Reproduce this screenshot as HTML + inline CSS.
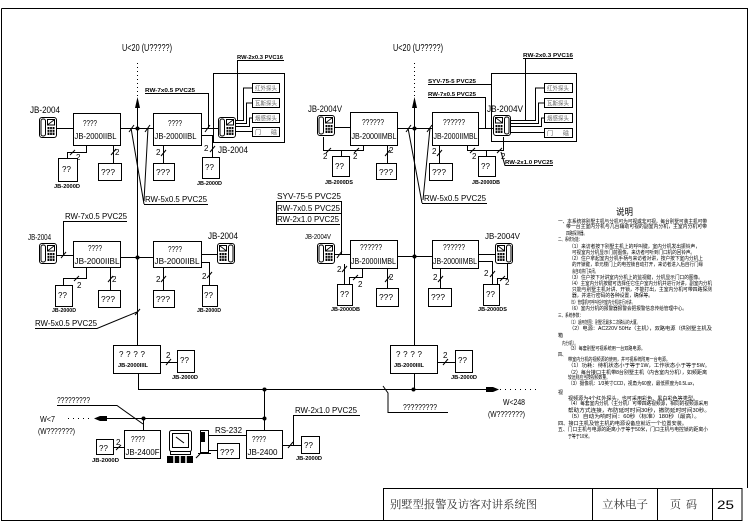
<!DOCTYPE html>
<html><head><meta charset="utf-8">
<style>
html,body{margin:0;padding:0;background:#fff;width:749px;height:530px;overflow:hidden;}
svg{display:block;}
text{font-family:"Liberation Sans","Noto Sans CJK SC",sans-serif;fill:#000;}
.l{stroke:#000;stroke-width:1;fill:none;}
.b{stroke:#000;stroke-width:1;fill:#fff;}
.d{fill:#000;}
.cn{font-family:"Liberation Sans","Noto Sans CJK SC",sans-serif;fill:#777;font-size:5px;}
.det{font-family:"Liberation Sans","Noto Sans CJK SC",sans-serif;fill:#666;font-size:6px;}
.tb{font-family:"Liberation Serif","Noto Serif CJK SC","Noto Sans CJK SC",serif;fill:#333;}
</style></head>
<body>
<svg width="749" height="530" viewBox="0 0 749 530" xmlns="http://www.w3.org/2000/svg">
<defs>
<g id="ph">
 <rect x="0.5" y="0.5" width="17" height="20" rx="2.5" fill="#fff" stroke="#000"/>
 <rect x="2" y="2" width="4.5" height="17" rx="2" fill="none" stroke="#000"/>
 <rect x="8.5" y="2.5" width="7" height="5.5" fill="none" stroke="#000"/>
 <path d="M9 7.5 L15 3" stroke="#000" stroke-width="0.8"/>
 <rect x="8.5" y="10" width="7" height="8" fill="#000"/>
 <path d="M8.5 12.5H15.5M8.5 15.2H15.5M10.8 10V18M13.2 10V18" stroke="#fff" stroke-width="0.7"/>
</g>
</defs>

<!-- frame -->
<path class="l" stroke-width="1.5" d="M1.5 8.5 H747.5 V488"/>
<path class="l" stroke-width="1.5" d="M1.5 8.5 V520.5 H383"/>
<!-- title block -->
<rect x="383.5" y="488.5" width="358.5" height="32" class="l" stroke-width="1.5"/>
<path class="l" d="M592.5 488.5V520.5M657.5 488.5V520.5M712.5 488.5V520.5"/>
<text class="tb" x="390" y="508" font-size="11" textLength="147" lengthAdjust="spacingAndGlyphs">别墅型报警及访客对讲系统图</text>
<text class="tb" x="602" y="508" font-size="11" textLength="46" lengthAdjust="spacingAndGlyphs">立林电子</text>
<text class="tb" x="670" y="508" font-size="11" textLength="27" lengthAdjust="spacing">页码</text>
<text x="717" y="509" font-size="12" textLength="17" lengthAdjust="spacingAndGlyphs" fill="#222">25</text>

<!-- ===== risers ===== -->
<line x1="137.5" y1="63" x2="137.5" y2="97" class="l" stroke-dasharray="1 3"/>
<path d="M137.5 97 L135 108 H140 Z" class="d"/>
<line x1="137.5" y1="108" x2="137.5" y2="345" class="l"/>
<line x1="414.5" y1="63" x2="414.5" y2="97" class="l" stroke-dasharray="1 3"/>
<path d="M414.5 97 L412 108 H417 Z" class="d"/>
<line x1="414.5" y1="108" x2="414.5" y2="345" class="l"/>
<text x="122" y="51" font-size="10" textLength="50" lengthAdjust="spacingAndGlyphs">U&lt;20 (U?????)</text>
<text x="393" y="51" font-size="10" textLength="50" lengthAdjust="spacingAndGlyphs">U&lt;20 (U?????)</text>

<!-- ===== TOP LEFT FLOOR 1 ===== -->
<rect x="73.5" y="113.5" width="47" height="32" class="b"/>
<text x="83" y="126" font-size="8" textLength="14" lengthAdjust="spacingAndGlyphs">????</text>
<text x="74.5" y="139" font-size="8.5" textLength="42" lengthAdjust="spacingAndGlyphs">JB-2000IIBL</text>
<use href="#ph" x="39" y="117"/>
<text x="30" y="113" font-size="9" textLength="30" lengthAdjust="spacingAndGlyphs">JB-2004</text>
<path class="l" d="M57 128.5 H73"/>
<path class="l" d="M120.5 128.5 H153"/>
<circle cx="137.5" cy="128.5" r="2" class="d"/>
<path class="l" d="M129 132 L134 125 M145 132 L150 125"/>
<path class="l" d="M131 128 L144 204 M148 128 L144 201 M144 204.5 H208"/>
<text x="145" y="202" font-size="8" textLength="62" lengthAdjust="spacingAndGlyphs">RW-5x0.5 PVC25</text>

<path class="l" d="M86.5 145 V152.5 H67.5 V158"/>
<path class="l" d="M70 155 L75 150"/>
<text x="76" y="160" font-size="8">2</text>
<rect x="58.5" y="158.5" width="19" height="23" class="b"/>
<text x="62" y="172" font-size="8">??</text>
<text x="54" y="188" font-size="5" textLength="26" lengthAdjust="spacingAndGlyphs" font-weight="bold">JB-2000D</text>
<rect x="98.5" y="163.5" width="23" height="17" class="b"/>
<text x="101" y="175" font-size="8" textLength="14" lengthAdjust="spacingAndGlyphs">???</text>
<path class="l" d="M113.5 145 V163 M111 155 L116 149"/>
<text x="115" y="155" font-size="8">2</text>

<rect x="153.5" y="113.5" width="48" height="32" class="b"/>
<text x="168" y="126" font-size="8" textLength="14" lengthAdjust="spacingAndGlyphs">????</text>
<text x="154.5" y="139" font-size="8.5" textLength="42" lengthAdjust="spacingAndGlyphs">JB-2000IIBL</text>
<rect x="153.5" y="163.5" width="21" height="17" class="b"/>
<text x="156" y="175" font-size="8" textLength="14" lengthAdjust="spacingAndGlyphs">???</text>
<path class="l" d="M163.5 145 V163 M161 156 L166 150"/>
<text x="156" y="155" font-size="8">2</text>
<path class="l" d="M202 128.5 H218 M205 132 L210 125"/>
<text x="145" y="92" font-size="5.5" font-weight="bold" textLength="50" lengthAdjust="spacingAndGlyphs">RW-7x0.5 PVC25</text>
<path class="l" d="M145 93.5 H208.5 V128"/>
<path class="l" d="M202 135.5 H212.5 V157 M210 152 L215 146"/>
<text x="204" y="151" font-size="8">2</text>
<rect x="202.5" y="157.5" width="17" height="21" class="b"/>
<text x="205" y="170" font-size="8">??</text>
<text x="197" y="185" font-size="5" font-weight="bold" textLength="25" lengthAdjust="spacingAndGlyphs">JB-2000D</text>
<rect x="213.5" y="73.5" width="71" height="69" class="l"/>
<use href="#ph" x="218" y="117"/>
<text x="218" y="153" font-size="9" textLength="30" lengthAdjust="spacingAndGlyphs">JB-2004</text>
<rect x="252.5" y="83.5" width="27" height="9" class="b"/>
<rect x="252.5" y="98.5" width="27" height="9" class="b"/>
<rect x="252.5" y="113.5" width="27" height="9" class="b"/>
<rect x="252.5" y="127.5" width="27" height="9" class="b"/>
<text class="det" x="255" y="90.5" textLength="22" lengthAdjust="spacingAndGlyphs">红外探头</text>
<text class="det" x="255" y="105.5" textLength="22" lengthAdjust="spacingAndGlyphs">瓦斯探头</text>
<text class="det" x="255" y="120.5" textLength="22" lengthAdjust="spacingAndGlyphs">烟感探头</text>
<text class="det" x="255" y="134.5" textLength="22" lengthAdjust="spacing">门　　磁</text>
<path class="l" d="M236 120.5 H243.5 V88 H252 M236 123.5 H246.5 V103 H252 M236 126.5 H249.5 V118 H252 M236 131.5 H252"/>
<text x="237" y="59" font-size="5" font-weight="bold" textLength="46" lengthAdjust="spacingAndGlyphs">RW-2x0.3 PVC16</text>
<path class="l" d="M237 60.5 H284 M237.5 60 V120"/>

<!-- ===== TOP RIGHT FLOOR 1 ===== -->
<rect x="350.5" y="112.5" width="47" height="33" class="b"/>
<text x="362" y="125" font-size="8" textLength="22" lengthAdjust="spacingAndGlyphs">??????</text>
<text x="351.5" y="139" font-size="8.5" textLength="45" lengthAdjust="spacingAndGlyphs">JB-2000IIMBL</text>
<use href="#ph" x="317" y="115"/>
<text x="308" y="112" font-size="9" textLength="34" lengthAdjust="spacingAndGlyphs">JB-2004V</text>
<path class="l" d="M334 127.5 H350"/>
<path class="l" d="M323.5 137 V150.5 H363.5 V145 M341.5 150 V156 M326 153 L331 148 M354 153 L359 148"/>
<text x="323" y="159" font-size="8">2</text>
<text x="353" y="159" font-size="8">2</text>
<rect x="332.5" y="156.5" width="17" height="20" class="b"/>
<text x="335" y="169" font-size="8">??</text>
<text x="325" y="184" font-size="5" font-weight="bold" textLength="28" lengthAdjust="spacingAndGlyphs">JB-2000DS</text>
<rect x="376.5" y="163.5" width="20" height="16" class="b"/>
<text x="379" y="175" font-size="8" textLength="14" lengthAdjust="spacingAndGlyphs">???</text>
<path class="l" d="M387.5 145 V163 M385 156 L390 150"/>
<text x="389" y="153" font-size="8">2</text>
<path class="l" d="M397 128.5 H432"/>
<circle cx="414.5" cy="128.5" r="2" class="d"/>
<path class="l" d="M406 132 L411 125 M427 132 L432 125"/>
<path class="l" d="M408 128 L422 203 M430 128 L423 200 M422 203.5 H487"/>
<text x="424" y="201" font-size="8" textLength="62" lengthAdjust="spacingAndGlyphs">RW-5x0.5 PVC25</text>
<rect x="432.5" y="112.5" width="46" height="33" class="b"/>
<text x="443" y="125" font-size="8" textLength="22" lengthAdjust="spacingAndGlyphs">??????</text>
<text x="433.5" y="139" font-size="8.5" textLength="44" lengthAdjust="spacingAndGlyphs">JB-2000IIMBL</text>
<rect x="429.5" y="163.5" width="23" height="17" class="b"/>
<text x="432" y="175" font-size="8" textLength="14" lengthAdjust="spacingAndGlyphs">???</text>
<path class="l" d="M439.5 145 V163 M437 156 L442 150"/>
<text x="432" y="154" font-size="8">2</text>
<path class="l" d="M479 128.5 H493"/>
<text x="428" y="83" font-size="5" font-weight="bold" textLength="48" lengthAdjust="spacingAndGlyphs">SYV-75-5 PVC25</text>
<path class="l" d="M428 84.5 H491"/>
<text x="428" y="96" font-size="5" font-weight="bold" textLength="48" lengthAdjust="spacingAndGlyphs">RW-7x0.5 PVC25</text>
<path class="l" d="M428 97.5 H485.5 V128"/>
<path class="l" d="M467.5 145 V150.5 H503.5 V137 M486.5 150 V156 M470 153 L475 148 M497 153 L502 148"/>
<text x="472" y="159" font-size="8">2</text>
<text x="501" y="159" font-size="8">2</text>
<rect x="478.5" y="156.5" width="17" height="20" class="b"/>
<text x="481" y="169" font-size="8">??</text>
<text x="472" y="184" font-size="5" font-weight="bold" textLength="28" lengthAdjust="spacingAndGlyphs">JB-2000DB</text>
<path class="l" d="M501 152 L505 165.5 H553"/>
<text x="505" y="164" font-size="5" font-weight="bold" textLength="48" lengthAdjust="spacingAndGlyphs">RW-2x1.0 PVC25</text>
<rect x="491.5" y="73.5" width="85" height="68" class="l"/>
<use href="#ph" transform="translate(511,115) scale(-1,1)"/>
<text x="487" y="112" font-size="9" textLength="36" lengthAdjust="spacingAndGlyphs">JB-2004V</text>
<rect x="544.5" y="83.5" width="28" height="9" class="b"/>
<rect x="544.5" y="98.5" width="28" height="9" class="b"/>
<rect x="544.5" y="113.5" width="28" height="9" class="b"/>
<rect x="544.5" y="128.5" width="28" height="9" class="b"/>
<text class="det" x="547" y="90.5" textLength="22" lengthAdjust="spacingAndGlyphs">红外探头</text>
<text class="det" x="547" y="105.5" textLength="22" lengthAdjust="spacingAndGlyphs">瓦斯探头</text>
<text class="det" x="547" y="120.5" textLength="22" lengthAdjust="spacingAndGlyphs">烟感探头</text>
<text class="det" x="547" y="135.5" textLength="22" lengthAdjust="spacing">门　　磁</text>
<path class="l" d="M511 120.5 H535.5 V88 H544 M511 123.5 H538.5 V103 H544 M511 126.5 H541.5 V118 H544 M511 132.5 H544"/>
<text x="523" y="57" font-size="5" font-weight="bold" textLength="50" lengthAdjust="spacingAndGlyphs">RW-2x0.3 PVC16</text>
<path class="l" d="M523 58.5 H573 M525.5 58 V120"/>

<!-- ===== FLOOR 2 LEFT ===== -->
<text x="65" y="219" font-size="8" textLength="62" lengthAdjust="spacingAndGlyphs">RW-7x0.5 PVC25</text>
<path class="l" d="M63.5 221.5 H127 M63.5 221 V255 M61 258 L66 252"/>
<use href="#ph" x="39" y="243"/>
<text x="28" y="240" font-size="8" textLength="23" lengthAdjust="spacingAndGlyphs">JB-2004</text>
<rect x="73.5" y="241.5" width="47" height="26" class="b"/>
<text x="88" y="251" font-size="8" textLength="14" lengthAdjust="spacingAndGlyphs">????</text>
<text x="74.5" y="264" font-size="8.5" textLength="45" lengthAdjust="spacingAndGlyphs">JB-2000IIBL</text>
<path class="l" d="M57 255.5 H73"/>
<path class="l" d="M120 257.5 H153"/>
<circle cx="137.5" cy="257.5" r="2" class="d"/>
<rect x="153.5" y="241.5" width="48" height="26" class="b"/>
<text x="168" y="252" font-size="8" textLength="14" lengthAdjust="spacingAndGlyphs">????</text>
<text x="154.5" y="264" font-size="8.5" textLength="45" lengthAdjust="spacingAndGlyphs">JB-2000IIBL</text>
<path class="l" d="M201 254.5 H217"/>
<use href="#ph" transform="translate(235,243) scale(-1,1)"/>
<text x="208" y="239" font-size="9" textLength="30" lengthAdjust="spacingAndGlyphs">JB-2004</text>
<path class="l" d="M86.5 268 V278.5 H63.5 V285 M74 281 L79 276"/>
<text x="77" y="288" font-size="8">2</text>
<rect x="55.5" y="285.5" width="17" height="21" class="b"/>
<text x="58" y="298" font-size="8">??</text>
<text x="52" y="312" font-size="5" font-weight="bold" textLength="24" lengthAdjust="spacingAndGlyphs">JB-2000D</text>
<rect x="98.5" y="290.5" width="22" height="17" class="b"/>
<text x="101" y="302" font-size="8" textLength="14" lengthAdjust="spacingAndGlyphs">???</text>
<path class="l" d="M110.5 268 V290 M108 282 L113 276"/>
<text x="112" y="282" font-size="8">2</text>
<rect x="153.5" y="290.5" width="21" height="17" class="b"/>
<text x="156" y="302" font-size="8" textLength="14" lengthAdjust="spacingAndGlyphs">???</text>
<path class="l" d="M163.5 268 V290 M161 282 L166 276"/>
<text x="156" y="282" font-size="8">2</text>
<path class="l" d="M201 262.5 H209.5 V285 M207 278 L212 272"/>
<text x="202" y="279" font-size="8">2</text>
<rect x="202.5" y="285.5" width="15" height="21" class="b"/>
<text x="204" y="298" font-size="8">??</text>
<text x="197" y="312" font-size="5" font-weight="bold" textLength="24" lengthAdjust="spacingAndGlyphs">JB-2000D</text>
<text x="35" y="326" font-size="8" textLength="62" lengthAdjust="spacingAndGlyphs">RW-5x0.5 PVC25</text>
<path class="l" d="M35 328.5 H97 L137 312 M135 315 L140 309"/>

<!-- ===== FLOOR 2 RIGHT ===== -->
<text x="277" y="199" font-size="8" textLength="64" lengthAdjust="spacingAndGlyphs">SYV-75-5 PVC25</text>
<text x="277" y="211" font-size="8" textLength="63" lengthAdjust="spacingAndGlyphs">RW-7x0.5 PVC25</text>
<text x="277" y="222" font-size="8" textLength="62" lengthAdjust="spacingAndGlyphs">RW-2x1.0 PVC25</text>
<path class="l" d="M276 201.5 H341.5 M276 213.5 H341.5 M276 224.5 H340 M276.5 201 V224 M341.5 201 V254"/>
<use href="#ph" x="317" y="243"/>
<text x="305" y="239" font-size="7" textLength="26" lengthAdjust="spacingAndGlyphs">JB-2004V</text>
<rect x="350.5" y="240.5" width="47" height="28" class="b"/>
<text x="360" y="250" font-size="8" textLength="22" lengthAdjust="spacingAndGlyphs">??????</text>
<text x="351" y="264" font-size="8.5" textLength="45" lengthAdjust="spacingAndGlyphs">JB-2000IIMBL</text>
<path class="l" d="M334 254.5 H350 M337 258 L342 251"/>
<path class="l" d="M397 256.5 H432"/>
<circle cx="414.5" cy="256.5" r="2" class="d"/>
<rect x="432.5" y="240.5" width="46" height="28" class="b"/>
<text x="443" y="250" font-size="8" textLength="22" lengthAdjust="spacingAndGlyphs">??????</text>
<text x="433" y="264" font-size="8.5" textLength="44" lengthAdjust="spacingAndGlyphs">JB-2000IIMBL</text>
<path class="l" d="M478 254.5 H495"/>
<use href="#ph" transform="translate(513,243) scale(-1,1)"/>
<text x="485" y="239" font-size="8" textLength="35" lengthAdjust="spacingAndGlyphs">JB-2004V</text>
<path class="l" d="M344.5 264 V284 M342 272 L347 266"/>
<text x="337" y="272" font-size="8">2</text>
<path class="l" d="M362.5 268 V277.5 H349.5 V284 M353 280 L358 275"/>
<text x="358" y="287" font-size="8">2</text>
<rect x="337.5" y="284.5" width="15" height="21" class="b"/>
<text x="340" y="297" font-size="8">??</text>
<text x="331" y="311" font-size="5" font-weight="bold" textLength="29" lengthAdjust="spacingAndGlyphs">JB-2000DB</text>
<rect x="376.5" y="288.5" width="22" height="18" class="b"/>
<text x="379" y="300" font-size="8" textLength="14" lengthAdjust="spacingAndGlyphs">???</text>
<path class="l" d="M387.5 268 V288 M385 282 L390 276"/>
<text x="389" y="280" font-size="8">2</text>
<rect x="428.5" y="288.5" width="23" height="18" class="b"/>
<text x="431" y="300" font-size="8" textLength="14" lengthAdjust="spacingAndGlyphs">???</text>
<path class="l" d="M440.5 268 V288 M438 282 L443 276"/>
<text x="433" y="280" font-size="8">2</text>
<path class="l" d="M478 261.5 H492.5 V284 M490 277 L495 271"/>
<text x="484" y="276" font-size="8">2</text>
<path class="l" d="M507.5 264 V278.5 H497.5 V284 M500 281 L505 276"/>
<text x="505" y="285" font-size="8">2</text>
<rect x="483.5" y="284.5" width="16" height="21" class="b"/>
<text x="486" y="297" font-size="8">??</text>
<text x="478" y="311" font-size="5" font-weight="bold" textLength="29" lengthAdjust="spacingAndGlyphs">JB-2000DS</text>

<!-- ===== BOTTOM ===== -->
<rect x="113.5" y="345.5" width="47" height="28" class="b"/>
<text x="119" y="357" font-size="8" textLength="26" lengthAdjust="spacing">????</text>
<text x="118" y="367" font-size="5" font-weight="bold" textLength="30" lengthAdjust="spacingAndGlyphs">JB-2000IIIL</text>
<path class="l" d="M161 362.5 H177 M166 365 L171 359"/>
<text x="166" y="358" font-size="8">2</text>
<rect x="177.5" y="350.5" width="17" height="22" class="b"/>
<text x="180" y="363" font-size="8">??</text>
<text x="172" y="379" font-size="5" font-weight="bold" textLength="26" lengthAdjust="spacingAndGlyphs">JB-2000D</text>
<path class="l" d="M138.5 373 V389.5 H488"/>
<path d="M486 387 H493 L499 389.5 L493 392 H486 Z" class="d"/>
<path class="l" d="M500 389.5 H537" stroke-dasharray="1 4"/>
<circle cx="264.5" cy="389.5" r="2" class="d"/>
<circle cx="413.5" cy="389.5" r="2" class="d"/>
<path class="l" d="M264.5 389 V430"/>
<path class="l" d="M105 418.5 H264"/>
<circle cx="264.5" cy="418.5" r="2" class="d"/>
<circle cx="143.5" cy="418.5" r="2" class="d"/>
<path d="M107 416 H100 L94 418.5 L100 421 H107 Z" class="d"/>
<path class="l" d="M68 418.5 H92" stroke-dasharray="1 4"/>
<path class="l" d="M143.5 418 V430"/>
<text x="57" y="403" font-size="8" textLength="33" lengthAdjust="spacingAndGlyphs">?????????</text>
<path class="l" d="M57 405.5 H117 L143 424"/>
<text x="40" y="422" font-size="8" textLength="15" lengthAdjust="spacingAndGlyphs">W&lt;7</text>
<text x="38" y="434" font-size="8" textLength="37" lengthAdjust="spacingAndGlyphs">(W???????)</text>
<rect x="124.5" y="430.5" width="36" height="28" class="b"/>
<text x="131" y="442" font-size="8" textLength="14" lengthAdjust="spacingAndGlyphs">????</text>
<text x="125.5" y="455" font-size="8" textLength="34" lengthAdjust="spacingAndGlyphs">JB-2400F</text>
<rect x="96.5" y="439.5" width="17" height="15" class="b"/>
<text x="99" y="451" font-size="8">??</text>
<path class="l" d="M114 447.5 H124 M116 450 L121 445"/>
<text x="116" y="445" font-size="8">2</text>
<text x="92" y="462" font-size="5" font-weight="bold" textLength="27" lengthAdjust="spacingAndGlyphs">JB-2000D</text>
<!-- computer -->
<rect x="169.5" y="430.5" width="22" height="21" rx="2" class="b"/>
<rect x="172.5" y="433.5" width="16" height="14" class="l"/>
<path class="l" d="M176 437 L184 443"/>
<rect x="170.5" y="451.5" width="20" height="3" class="b"/>
<rect x="167" y="456" width="26" height="7" class="d"/>
<path d="M174 456V463M180 456V463M186 456V463" stroke="#fff" stroke-width="1.5"/>
<rect x="200.5" y="430.5" width="8" height="22" class="b"/>
<rect x="201" y="432" width="4" height="10" class="d"/>
<path class="l" d="M198 453.5 H211 M196 458 L200 454"/>
<path class="l" d="M209 435.5 H246"/>
<text x="215" y="433" font-size="8" textLength="27" lengthAdjust="spacingAndGlyphs">RS-232</text>
<path class="l" d="M209 450.5 H217"/>
<rect x="217.5" y="443.5" width="22" height="15" class="b"/>
<text x="220" y="455" font-size="8" textLength="14" lengthAdjust="spacingAndGlyphs">???</text>
<rect x="246.5" y="430.5" width="36" height="28" class="b"/>
<text x="252" y="442" font-size="8" textLength="14" lengthAdjust="spacingAndGlyphs">????</text>
<text x="247.5" y="455" font-size="8" textLength="30" lengthAdjust="spacingAndGlyphs">JB-2400</text>
<path class="l" d="M283 445.5 H301 M288 448 L293 442 M293.5 445 V415.5 H360"/>
<text x="295" y="413" font-size="8" textLength="62" lengthAdjust="spacingAndGlyphs">RW-2x1.0 PVC25</text>
<rect x="301.5" y="436.5" width="18" height="17" class="b"/>
<text x="304" y="448" font-size="8">??</text>
<text x="296" y="460" font-size="5" font-weight="bold" textLength="26" lengthAdjust="spacingAndGlyphs">JB-2000D</text>

<rect x="390.5" y="345.5" width="47" height="28" class="b"/>
<text x="396" y="357" font-size="8" textLength="26" lengthAdjust="spacing">????</text>
<text x="394" y="367" font-size="5" font-weight="bold" textLength="30" lengthAdjust="spacingAndGlyphs">JB-2000IIIL</text>
<path class="l" d="M438 362.5 H455 M443 365 L448 359"/>
<text x="443" y="358" font-size="8">2</text>
<rect x="455.5" y="350.5" width="17" height="22" class="b"/>
<text x="458" y="363" font-size="8">??</text>
<text x="451" y="379" font-size="5" font-weight="bold" textLength="26" lengthAdjust="spacingAndGlyphs">JB-2000D</text>
<path class="l" d="M414.5 373 V389"/>
<path class="l" d="M383 386 L388 393 V412.5 H448"/>
<text x="403" y="410" font-size="8" textLength="34" lengthAdjust="spacingAndGlyphs">?????????</text>
<text x="503" y="405" font-size="8" textLength="22" lengthAdjust="spacingAndGlyphs">W&lt;248</text>
<text x="488" y="417" font-size="8" textLength="37" lengthAdjust="spacingAndGlyphs">(W???????)</text>

<!-- ===== explanation ===== -->
<text x="616" y="215" font-size="9" fill="#333" textLength="17" lengthAdjust="spacingAndGlyphs">说明</text>
<g class="cn">
<text x="558" y="223" textLength="149" lengthAdjust="spacingAndGlyphs">一、本系统将别墅主机与分机可为可视或非可视，每台别墅可装主机可带</text>
<text x="566" y="228" textLength="141" lengthAdjust="spacingAndGlyphs">带一台主室内分机与几台辅助可视的副室内分机，主室内分机可带</text>
<text x="566" y="235" textLength="21" lengthAdjust="spacingAndGlyphs">四路探测器。</text>
<text x="558" y="241" textLength="24" lengthAdjust="spacingAndGlyphs">二、系统功能：</text>
<text x="569" y="248" textLength="131" lengthAdjust="spacingAndGlyphs">（1）来访者按下别墅主机上的呼叫键，室内分机发出振铃声，</text>
<text x="572" y="254" textLength="123" lengthAdjust="spacingAndGlyphs">可视室内分机显示门前图像，来访者可听到门口机的回铃声。</text>
<text x="569" y="260" textLength="134" lengthAdjust="spacingAndGlyphs">（2）住户拿起室内分机手柄与来访者对讲，按户按下室内分机上</text>
<text x="572" y="266" textLength="131" lengthAdjust="spacingAndGlyphs">的开锁键，单元楼门上的电控锁自动打开，来访者进入后自行门缘</text>
<text x="572" y="273" textLength="26" lengthAdjust="spacingAndGlyphs">会自动将门关闭。</text>
<text x="569" y="279" textLength="134" lengthAdjust="spacingAndGlyphs">（3）住户按下对讲室内分机上的监视键，分机显示门口的图像。</text>
<text x="569" y="285" textLength="143" lengthAdjust="spacingAndGlyphs">（4）主室内分机按键可选择任它住户室内分机并进行对讲，副室内分机</text>
<text x="572" y="291" textLength="140" lengthAdjust="spacingAndGlyphs">只能与别墅主机对讲、开锁，不能打出，主室内分机可带四路探测</text>
<text x="572" y="297" textLength="81" lengthAdjust="spacingAndGlyphs">器，并进行密码的各种设置，确保等。</text>
<text x="569" y="304" textLength="66" lengthAdjust="spacingAndGlyphs">（5）管理机可呼叫任何室内分机进行对讲。</text>
<text x="569" y="310" textLength="118" lengthAdjust="spacingAndGlyphs">（6）室内分机的报警器报警会把报警信息传给管理中心。</text>
<text x="558" y="317" textLength="25" lengthAdjust="spacingAndGlyphs">三、系统参数：</text>
<text x="569" y="324" textLength="71" lengthAdjust="spacingAndGlyphs">（1）适用范围：别墅况最多二次确认的大厦。</text>
<text x="569" y="330" textLength="143" lengthAdjust="spacingAndGlyphs">（2）电源：AC220V 50Hz（主机），双路电源（供别墅主机及</text>
<text x="558" y="337" textLength="5" lengthAdjust="spacingAndGlyphs">箱</text>
<text x="562" y="345" textLength="16" lengthAdjust="spacingAndGlyphs">内分机）。</text>
<text x="568" y="350" textLength="77" lengthAdjust="spacingAndGlyphs">（3）每套别墅可视系统用一台双路电源。</text>
<text x="558" y="356" textLength="8" lengthAdjust="spacingAndGlyphs">四、</text>
<text x="568" y="361" textLength="102" lengthAdjust="spacingAndGlyphs">带室内分机的视频源的使用，并可视系统附用一台电源。</text>
<text x="568" y="367" textLength="142" lengthAdjust="spacingAndGlyphs">（1）功耗：待机状态小于等于1W，工作状态小于等于5W。</text>
<text x="568" y="374" textLength="139" lengthAdjust="spacingAndGlyphs">（2）每台接口主机带8台别墅主机（内含室内分机），如频距离</text>
<text x="568" y="379" textLength="42" lengthAdjust="spacingAndGlyphs">较远则应当按视频数量。</text>
<text x="568" y="385" textLength="129" lengthAdjust="spacingAndGlyphs">（3）摄像机：1/3英寸CCD，视角为60度，最低照度为0.5Lux，</text>
<text x="558" y="394" textLength="5" lengthAdjust="spacingAndGlyphs">视</text>
<text x="568" y="400" textLength="130" lengthAdjust="spacingAndGlyphs">视频源为4个红外探头，也可采用彩色、黑白彩色等类型。</text>
<text x="568" y="405" textLength="140" lengthAdjust="spacingAndGlyphs">（4）每套室内分机（主分机）可带四路视频源，相同的视频源采用</text>
<text x="568" y="412" textLength="142" lengthAdjust="spacingAndGlyphs">帮助方式连接，布防延时时间30秒，撤防延时时间30秒。</text>
<text x="568" y="418" textLength="132" lengthAdjust="spacingAndGlyphs">（5）自动为响时间：60秒（标准）180秒（最高）。</text>
<text x="558" y="425" textLength="129" lengthAdjust="spacingAndGlyphs">四、接口主机及管主机的电源设备应就近一个位置安装。</text>
<text x="558" y="431" textLength="150" lengthAdjust="spacingAndGlyphs">五、门口主机与电源的距离小于等于50米，门口主机与电控锁的距离小</text>
<text x="568" y="438" textLength="24" lengthAdjust="spacingAndGlyphs">于等于10米。</text>
</g>
</svg>
</body></html>
